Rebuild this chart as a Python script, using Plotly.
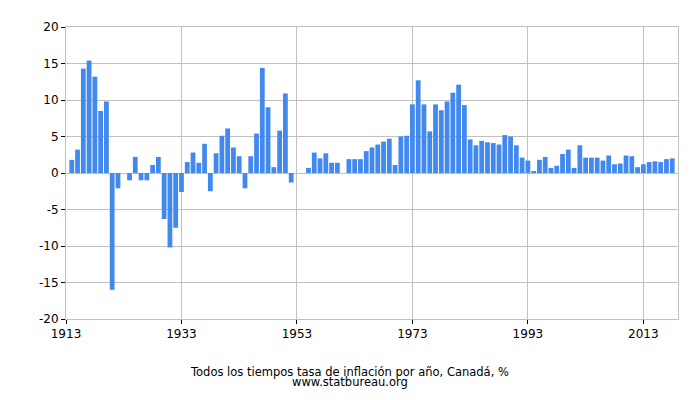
import plotly.graph_objects as go

YEARS = list(range(1914, 2019))

# annual inflation rate, %
INFLATION = [
    1.8, 3.2, 14.3, 15.4, 13.2, 8.5, 9.8, -16.0, -2.1, 0.0,      # 1914-1923
    -1.0, 2.2, -1.0, -1.0, 1.1, 2.2, -6.3, -10.2, -7.5, -2.6,    # 1924-1933
    1.5, 2.8, 1.4, 4.0, -2.5, 2.7, 5.1, 6.1, 3.5, 2.3,           # 1934-1943
    -2.1, 2.3, 5.4, 14.4, 9.0, 0.8, 5.8, 10.9, -1.3, 0.0,        # 1944-1953
    0.0, 0.7, 2.8, 2.0, 2.7, 1.4, 1.4, 0.0, 1.9, 1.9,            # 1954-1963
    1.9, 3.0, 3.5, 3.9, 4.3, 4.7, 1.1, 5.0, 5.1, 9.4,            # 1964-1973
    12.7, 9.4, 5.7, 9.4, 8.6, 9.8, 11.0, 12.1, 9.3, 4.6,         # 1974-1983
    3.8, 4.4, 4.2, 4.1, 3.9, 5.2, 5.0, 3.8, 2.1, 1.7,            # 1984-1993
    0.2, 1.8, 2.2, 0.7, 1.0, 2.6, 3.2, 0.7, 3.8, 2.1,            # 1994-2003
    2.1, 2.1, 1.7, 2.4, 1.2, 1.3, 2.4, 2.3, 0.8, 1.2,            # 2004-2013
    1.5, 1.6, 1.5, 1.9, 2.0,                                     # 2014-2018
]

X_TICKS = [1913, 1933, 1953, 1973, 1993, 2013]
Y_TICKS = [-20, -15, -10, -5, 0, 5, 10, 15, 20]

TITLE = "Todos los tiempos tasa de inflación por año, Canadá, %"
SOURCE = "www.statbureau.org"

FONT = "DejaVu Sans, Verdana, sans-serif"
GRID = "#c0c0c0"

# the page body adds an 8px margin, so the figure is sized to fit inside it
fig = go.Figure(
    go.Bar(
        x=YEARS,
        y=INFLATION,
        marker=dict(color="#4289ef", line=dict(width=0)),
    )
)

fig.update_layout(
    width=684,
    height=384,
    margin=dict(l=58, r=14, t=14, b=73),
    paper_bgcolor="white",
    plot_bgcolor="white",
    bargap=0.17,
    showlegend=False,
    font=dict(family=FONT, size=12, color="black"),
)

fig.update_xaxes(
    range=[1913, 2019],
    tickvals=X_TICKS,
    ticktext=[str(y) for y in X_TICKS],
    showgrid=True,
    gridcolor=GRID,
    gridwidth=1,
    showline=True,
    linecolor=GRID,
    linewidth=1,
    mirror=True,
    ticks="outside",
    ticklen=4,
    tickcolor="black",
    zeroline=False,
)
fig.update_yaxes(
    range=[-20, 20],
    tickvals=Y_TICKS,
    ticktext=[str(v) for v in Y_TICKS],
    showgrid=True,
    gridcolor=GRID,
    gridwidth=1,
    showline=True,
    linecolor=GRID,
    linewidth=1,
    mirror=True,
    ticks="outside",
    ticklen=4,
    tickcolor="black",
    zeroline=True,
    zerolinecolor=GRID,
    zerolinewidth=1,
)

# the two footer lines sit very close together, as in the original
for text, y in [(TITLE, -0.180), (SOURCE, -0.217)]:
    fig.add_annotation(
        text=text,
        xref="paper", yref="paper", x=0.464, y=y,
        xanchor="center", yanchor="middle",
        showarrow=False, borderpad=0,
        font=dict(family=FONT, size=11.5, color="black"),
    )

fig.write_html("out.html")
